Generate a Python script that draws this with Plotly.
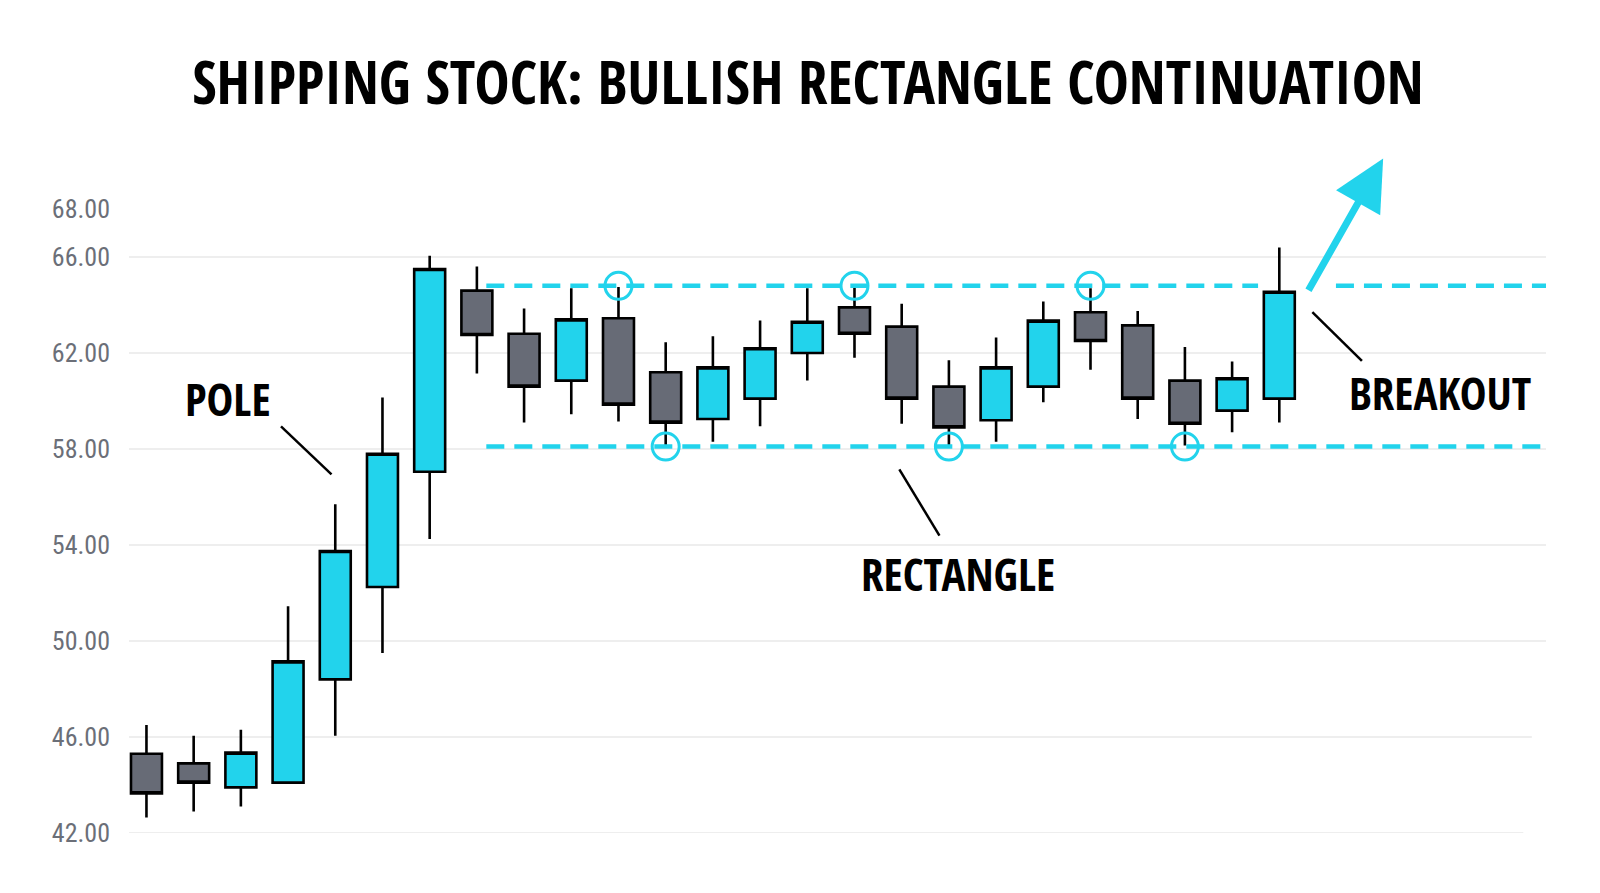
"""Shipping stock candlestick chart with a bullish rectangle continuation."""

import plotly.graph_objects as go

# candle data, one entry per session
sessions = list(range(25))
opens = [45.3, 44.9, 43.9, 44.1, 48.4, 52.25, 57.05, 64.6, 62.8, 60.85,
         63.45, 61.2, 59.25, 60.1, 62.0, 63.9, 63.1, 60.6, 59.2, 60.6,
         63.7, 63.15, 60.85, 59.6, 60.1]
highs = [46.5, 46.05, 46.3, 51.45, 55.7, 60.15, 66.05, 65.6, 63.85, 64.7,
         64.75, 62.45, 62.7, 63.35, 64.7, 64.75, 64.05, 61.7, 62.65, 64.15,
         64.7, 63.75, 62.25, 61.65, 66.4]
lows = [42.65, 42.9, 43.1, 44.1, 46.05, 49.5, 54.25, 61.15, 59.1, 59.45,
        59.15, 58.15, 58.3, 58.95, 60.85, 61.8, 59.05, 58.1, 58.3, 59.95,
        61.3, 59.25, 58.15, 58.7, 59.1]
closes = [43.65, 44.1, 45.35, 49.15, 53.75, 57.8, 65.5, 62.75, 60.6, 63.4,
          59.85, 59.1, 61.4, 62.2, 63.3, 62.8, 60.1, 58.9, 61.4, 63.35,
          62.5, 60.1, 59.05, 60.95, 64.55]

resistance = 64.8
support = 58.1
top_touches = [10, 15, 20]
bottom_touches = [11, 17, 22]

tick_values = [42, 46, 50, 54, 58, 62, 66, 68]
grid_values = [42, 46, 50, 54, 58, 62, 66]
grid_ends = [0.984, 0.99, 1, 1, 1, 1, 1]  # the two lowest lines stop a little short

CYAN = "#22d3ec"
GREY = "#676b76"
HEAVY = "Open Sans Condensed"

fig = go.Figure()

fig.add_trace(
    go.Candlestick(
        x=sessions,
        open=opens,
        high=highs,
        low=lows,
        close=closes,
        increasing=dict(fillcolor=CYAN, line=dict(color="black", width=2.6)),
        decreasing=dict(fillcolor=GREY, line=dict(color="black", width=2.6)),
        hoverinfo="skip",
    )
)

# dashed rectangle boundaries
line_style = dict(color=CYAN, width=4.5, dash="18px,10px")
for x0, x1, level in [(7.2, 23.55, resistance), (25.2, 29.7, resistance), (7.2, 29.7, support)]:
    fig.add_shape(type="line", x0=x0, x1=x1, y0=level, y1=level, line=line_style, layer="above")

# touch points circled on the boundaries
fig.add_trace(
    go.Scatter(
        x=top_touches + bottom_touches,
        y=[resistance] * len(top_touches) + [support] * len(bottom_touches),
        mode="markers",
        marker=dict(symbol="circle-open", size=27, color=CYAN, line=dict(width=3, color=CYAN)),
        hoverinfo="skip",
    )
)

for level, end in zip(grid_values, grid_ends):
    fig.add_shape(
        type="line", xref="paper", x0=0, x1=end, y0=level, y1=level,
        line=dict(color="#dedede", width=1.2), layer="below",
    )

# callout leader lines
for x0, y0, x1, y1 in [(2.85, 58.94, 3.92, 56.94), (15.95, 57.15, 16.8, 54.39), (24.7, 63.7, 25.75, 61.67)]:
    fig.add_shape(type="line", x0=x0, y0=y0, x1=x1, y1=y1, line=dict(color="black", width=2.5))

label_font = dict(family=HEAVY, size=45, color="black", weight=700)
for text, x, y in [("POLE", 1.72, 60.1), ("RECTANGLE", 17.2, 52.8), ("BREAKOUT", 27.4, 60.35)]:
    fig.add_annotation(x=x, y=y, text=text, showarrow=False, font=label_font)

# breakout arrow
fig.add_annotation(
    x=26.2, y=70.1, ax=24.6, ay=64.55, axref="x", ayref="y",
    text="", showarrow=True, arrowhead=2, arrowsize=1.45, arrowwidth=7, arrowcolor=CYAN,
)

fig.update_layout(
    width=1600,
    height=893,
    margin=dict(l=121, r=62, t=201, b=68),
    paper_bgcolor="white",
    plot_bgcolor="white",
    showlegend=False,
    title=dict(
        text="SHIPPING STOCK: BULLISH RECTANGLE CONTINUATION",
        x=0.5, xref="container", xanchor="center",
        y=1 - 75 / 893, yref="container", yanchor="middle",
        font=dict(family=HEAVY, size=59, color="black", weight=700),
    ),
    xaxis=dict(
        range=[-0.37, 29.65],
        showticklabels=False,
        showgrid=False,
        zeroline=False,
        showline=False,
        rangeslider=dict(visible=False),
    ),
    yaxis=dict(
        range=[42, 68],
        tickvals=tick_values,
        ticktext=[f"{v:.2f}" for v in tick_values],
        showgrid=False,
        zeroline=False,
        showline=False,
        ticks="",
        ticklabelstandoff=18,
        tickfont=dict(family="Roboto Condensed", size=26, color="#6b6f78"),
    ),
    boxgap=0.18,
    boxgroupgap=0.2,
)

fig.write_html("out.html")
